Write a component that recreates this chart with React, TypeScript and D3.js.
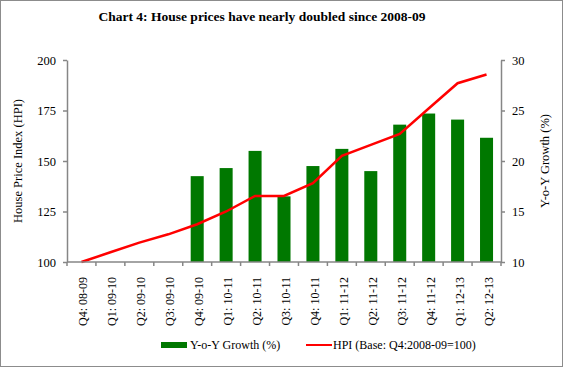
import { useEffect, useRef } from 'react';
import * as d3 from 'd3';

const quarters = [
  'Q4: 08-09', 'Q1: 09-10', 'Q2: 09-10', 'Q3: 09-10', 'Q4: 09-10',
  'Q1: 10-11', 'Q2: 10-11', 'Q3: 10-11', 'Q4: 10-11', 'Q1: 11-12',
  'Q2: 11-12', 'Q3: 11-12', 'Q4: 11-12', 'Q1: 12-13', 'Q2: 12-13',
];
// HPI (base Q4:2008-09 = 100)
const hpi = [100, 104.8, 109.6, 113.7, 118.7, 125, 132.7, 132.7, 139, 152.5, 158, 163.4, 176, 188.5, 192.8];
// Y-o-Y growth (%), none for the first four quarters
const yoy: (number | null)[] = [null, null, null, null, 18.5, 19.3, 21.0, 16.5, 19.5, 21.2, 19.0, 23.6, 24.7, 24.1, 22.3];
const leftTicks = [100, 125, 150, 175, 200];
const rightTicks = [10, 15, 20, 25, 30];

const W = 563;
const H = 367;

export default function App() {
  const svgRef = useRef<SVGSVGElement>(null);

  useEffect(() => {
    if (!svgRef.current) return;
    const svg = d3.select(svgRef.current);
    svg.selectAll('*').remove();

    const font = '"Liberation Serif", "Times New Roman", serif';
    const left = 67, right = 501, top = 60, bottom = 262;

    svg.append('rect')
      .attr('x', 0.5).attr('y', 0.5)
      .attr('width', W - 1).attr('height', H - 1)
      .attr('fill', 'white').attr('stroke', '#8c8c8c');

    svg.append('text')
      .attr('x', 262).attr('y', 21)
      .attr('text-anchor', 'middle')
      .style('font-family', font).style('font-size', '13.5px').style('font-weight', 'bold')
      .text('Chart 4: House prices have nearly doubled since 2008-09');

    const x = d3.scaleBand().domain(quarters).range([left, right]).paddingInner(0.55).paddingOuter(0.275);
    const xb = d3.scaleBand().domain(quarters).range([left, right]);
    const yL = d3.scaleLinear().domain([100, 200]).range([bottom, top]);
    const yR = d3.scaleLinear().domain([10, 30]).range([bottom, top]);

    // Bars
    svg.append('g').selectAll('rect')
      .data(quarters.map((q, i) => ({ q, v: yoy[i] })).filter(d => d.v !== null))
      .enter().append('rect')
      .attr('x', d => x(d.q)!)
      .attr('width', x.bandwidth())
      .attr('y', d => yR(d.v as number))
      .attr('height', d => bottom - yR(d.v as number))
      .attr('fill', '#007800');

    // Line
    const line = d3.line<number>()
      .x((_, i) => xb(quarters[i])! + xb.bandwidth() / 2)
      .y(d => yL(d));
    svg.append('path')
      .datum(hpi)
      .attr('fill', 'none')
      .attr('stroke', '#ff0000')
      .attr('stroke-width', 2.5)
      .attr('d', line);

    const axisColor = '#868686';
    const styleAxis = (g: d3.Selection<SVGGElement, unknown, null, undefined>) => {
      g.selectAll('path, line').attr('stroke', axisColor).attr('stroke-width', 1.5);
      g.selectAll('text').style('font-family', font).style('font-size', '12.5px').attr('fill', '#000');
    };

    const gl = svg.append('g').attr('transform', `translate(${left},0)`)
      .call(d3.axisLeft(yL).tickValues(leftTicks).tickSize(4).tickSizeOuter(0).tickPadding(7));
    styleAxis(gl);

    const gr = svg.append('g').attr('transform', `translate(${right},0)`)
      .call(d3.axisRight(yR).tickValues(rightTicks).tickSize(4).tickSizeOuter(0).tickPadding(7));
    styleAxis(gr);

    // X axis with ticks at band boundaries
    const gx = svg.append('g').attr('transform', `translate(0,${bottom})`);
    gx.append('line').attr('x1', left).attr('x2', right).attr('y1', 0).attr('y2', 0)
      .attr('stroke', axisColor).attr('stroke-width', 1.5);
    gx.selectAll('line.tick')
      .data(quarters.concat(['end']))
      .enter().append('line')
      .attr('class', 'tick')
      .attr('x1', (_, i) => left + i * xb.step())
      .attr('x2', (_, i) => left + i * xb.step())
      .attr('y1', 0).attr('y2', 4)
      .attr('stroke', axisColor).attr('stroke-width', 1.5);
    gx.selectAll('text')
      .data(quarters)
      .enter().append('text')
      .attr('transform', d => `translate(${xb(d)! + xb.bandwidth() / 2 + 6},15) rotate(-90)`)
      .attr('text-anchor', 'end')
      .style('font-family', font).style('font-size', '12px')
      .text(d => d);

    // Axis titles
    svg.append('text')
      .attr('transform', `translate(22,${(top + bottom) / 2}) rotate(-90)`)
      .attr('text-anchor', 'middle')
      .style('font-family', font).style('font-size', '12.5px')
      .text('House Price Index (HPI)');
    svg.append('text')
      .attr('transform', `translate(549,${(top + bottom) / 2}) rotate(-90)`)
      .attr('text-anchor', 'middle')
      .style('font-family', font).style('font-size', '12.5px')
      .text('Y-o-Y Growth (%)');

    // Legend
    const lg = svg.append('g').attr('transform', 'translate(161,345)');
    lg.append('rect').attr('x', 0).attr('y', -3).attr('width', 26).attr('height', 6).attr('fill', '#007800');
    lg.append('text').attr('x', 29).attr('y', 3.5)
      .style('font-family', font).style('font-size', '12px').text('Y-o-Y Growth (%)');
    lg.append('line').attr('x1', 145).attr('x2', 171).attr('y1', 0).attr('y2', 0)
      .attr('stroke', '#ff0000').attr('stroke-width', 2);
    lg.append('text').attr('x', 172).attr('y', 3.5)
      .style('font-family', font).style('font-size', '12px').text('HPI (Base: Q4:2008-09=100)');
  }, []);

  return (
    <div style={{ position: 'absolute', left: 0, top: 0 }}>
      <svg ref={svgRef} width={W} height={H} />
    </div>
  );
}
